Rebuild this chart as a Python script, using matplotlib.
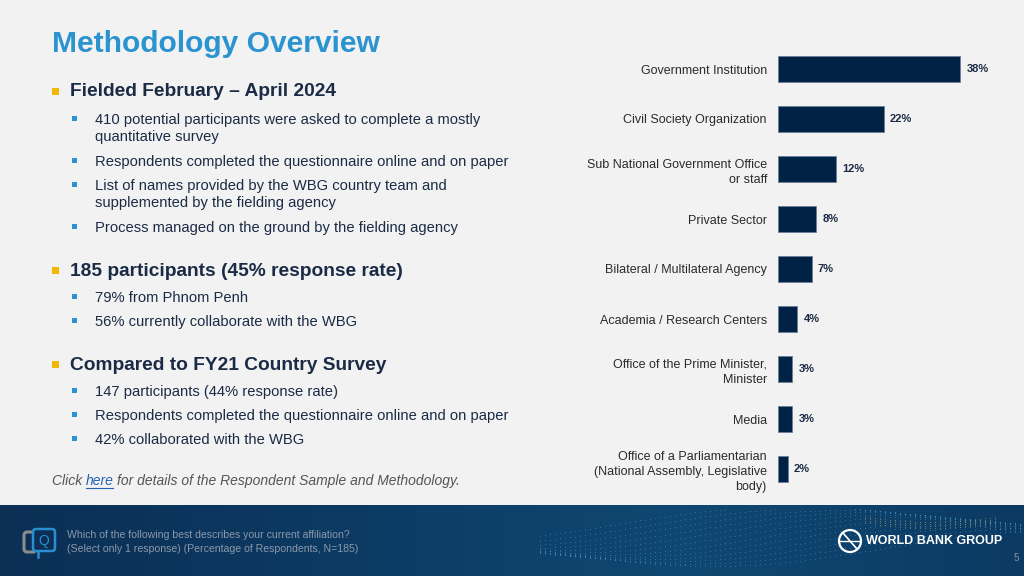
import numpy as np
import matplotlib
matplotlib.use("Agg")
import matplotlib.pyplot as plt
from matplotlib.patches import Rectangle, FancyBboxPatch, Circle
from matplotlib.colors import LinearSegmentedColormap

plt.rcParams['font.family'] = ['Liberation Sans', 'DejaVu Sans']

# chart data
categories = [
    "Government Institution",
    "Civil Society Organization",
    "Sub National Government Office\nor staff",
    "Private Sector",
    "Bilateral / Multilateral Agency",
    "Academia / Research Centers",
    "Office of the Prime Minister,\nMinister",
    "Media",
    "Office of a Parliamentarian\n(National Assembly, Legislative\nbody)",
]
shares = [38, 22, 12, 8, 7, 4, 3, 3, 2]
value_labels = ["38%", "22%", "12%", "8%", "7%", "4%", "3%", "3%", "2%"]

# left column text
title = "Methodology Overview"
sections = [
    ("Fielded February \u2013 April 2024", [
        "410 potential participants were asked to complete a mostly\nquantitative survey",
        "Respondents completed the questionnaire online and on paper",
        "List of names provided by the WBG country team and\nsupplemented by the fielding agency",
        "Process managed on the ground by the fielding agency",
    ]),
    ("185 participants (45% response rate)", [
        "79% from Phnom Penh",
        "56% currently collaborate with the WBG",
    ]),
    ("Compared to FY21 Country Survey", [
        "147 participants (44% response rate)",
        "Respondents completed the questionnaire online and on paper",
        "42% collaborated with the WBG",
    ]),
]
question = ["Which of the following best describes your current affiliation?",
            "(Select only 1 response) (Percentage of Respondents, N=185)"]

BG = "#F2F2F2"
NAVY = "#002244"
TEXT = "#1B2B45"
BLUE = "#2A93D0"
W, H = 1024, 576

fig = plt.figure(figsize=(W / 100, H / 100), dpi=100, facecolor=BG)

# full-slide overlay in pixel coordinates
ov = fig.add_axes([0, 0, 1, 1])
ov.axis("off")

ov.text(52, 44, title, fontsize=21.6, fontweight="bold", color=BLUE, va="center")

head_y = [92, 271, 365]
sub_y = [[119, 161, 185, 227], [297, 321], [391, 415, 439]]
for (head, subs), hy, sy in zip(sections, head_y, sub_y):
    ov.add_patch(Rectangle((52, hy - 4), 7, 7, color="#F2B800", lw=0))
    ov.text(70, hy, head, fontsize=13.8, fontweight="bold", color=TEXT, va="center")
    for s, y in zip(subs, sy):
        ov.add_patch(Rectangle((72, y - 3), 5, 5, color=BLUE, lw=0))
        ov.text(95, y - 6, s, fontsize=10.6, color=TEXT, va="top", linespacing=1.25)

ov.text(52, 481, "Click ", fontsize=10, style="italic", color="#555555", va="center")
ov.text(86, 481, "here", fontsize=10, style="italic", color="#2461B5", va="center")
ov.plot([86, 113], [488, 488], color="#2461B5", lw=0.8)
ov.text(117, 481, "for details of the Respondent Sample and Methodology.",
        fontsize=10, style="italic", color="#555555", va="center")

# footer band with gradient
grad = np.linspace(0, 1, 256)[None, :]
cmap = LinearSegmentedColormap.from_list("foot", ["#0B2F55", "#0C3A63", "#0F4872", "#0C3A63"])
ov.imshow(grad, extent=(0, W, 576, 505), aspect="auto", cmap=cmap, zorder=0)
# dotted wave decoration, kept inside the band
xs = np.arange(540, 1024, 5)
for k in range(12):
    yy = 548 + 18 * np.sin((xs - 540) / 110.0 + k * 0.22) - k * 2.2
    keep = (yy > 509) & (yy < 574)
    ov.scatter(xs[keep], yy[keep], s=0.7, color="#4A95C6", alpha=0.55, lw=0, zorder=1)
xg = xs[(xs > 860) & (xs < 1000)]
for k in range(4):
    ov.scatter(xg, 516 + 6 * np.sin((xg - 860) / 45.0) + k * 2, s=0.7, color="#C9A950",
               alpha=0.5, lw=0, zorder=1)
ov.set_xlim(0, W)
ov.set_ylim(H, 0)

# question icon
ov.add_patch(FancyBboxPatch((24, 532), 12, 20, boxstyle="round,pad=0,rounding_size=3",
                            fc="none", ec="#8C8C8C", lw=2.2, zorder=3))
ov.add_patch(FancyBboxPatch((33, 529), 22, 22, boxstyle="round,pad=0,rounding_size=3",
                            fc="#0B2F55", ec="#2A8FD0", lw=1.8, zorder=4))
ov.plot([38, 38], [551, 557], color="#2A8FD0", lw=1.8, zorder=4)
ov.text(44, 541, "Q", fontsize=10, color="#2A8FD0", ha="center", va="center", zorder=5)
ov.text(67, 535, question[0], fontsize=7.6, color="#8B98AA", va="center", zorder=5)
ov.text(67, 549, question[1], fontsize=7.6, color="#8B98AA", va="center", zorder=5)

# logo
ov.add_patch(Circle((850, 541), 11, fc="none", ec="white", lw=1.6, zorder=5))
ov.plot([843, 857], [533, 549], color="white", lw=1.2, zorder=5)
ov.plot([840, 860], [541, 541], color="white", lw=1.0, zorder=5)
ov.text(866, 541, "WORLD BANK GROUP", fontsize=9, fontweight="bold", color="white",
        va="center", zorder=5)
ov.text(1016, 558, "5", fontsize=7, color="#8393A6", ha="center", va="center", zorder=5)

# bar chart: 1% ~ 4.8 px, rows every ~50 px from y=69
x0, px_per = 778, 4.8
xmax = 50
ax = fig.add_axes([x0 / W, 1 - 494 / H, xmax * px_per / W, 450 / H])
ax.set_facecolor("none")
ypos = np.arange(len(categories))
ax.barh(ypos, shares, height=0.52, color=NAVY, edgecolor="#6A7F99", linewidth=0.6)
for y, v, lab in zip(ypos, shares, value_labels):
    ax.text(v + 1.3, y, lab, fontsize=8, fontweight="bold", color=TEXT, va="center")
ax.set_xlim(0, xmax)
ax.set_ylim(len(categories) - 0.5, -0.5)
ax.set_yticks(ypos)
ax.set_yticklabels(categories, fontsize=9, color="#2B2B2B", linespacing=1.35)
ax.tick_params(axis="y", length=0, pad=8)
ax.set_xticks([])
for sp in ax.spines.values():
    sp.set_visible(False)

fig.savefig("out.png", dpi=100, facecolor=BG)
